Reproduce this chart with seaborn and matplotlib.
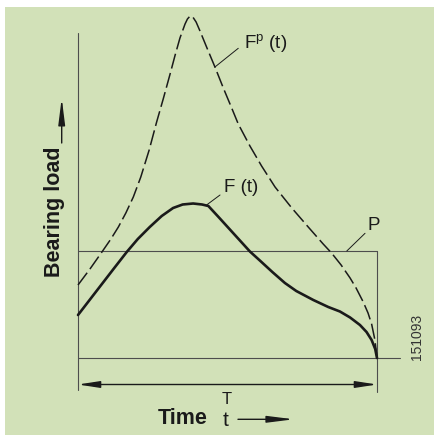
import numpy as np
import pandas as pd
import matplotlib
matplotlib.use('Agg')
import matplotlib.pyplot as plt
import seaborn as sns
from matplotlib.patches import Rectangle

# Values (time 0..100, load in arbitrary units, P = 107)
t_f = [0, 4, 8, 12, 16.3, 20, 24, 28, 31.8, 35, 38.5, 41.5, 43.6, 47, 50.5, 54, 57.5,
       61, 65, 69.2, 73, 78.7, 83.7, 87.6, 91, 94.3, 96.5, 98.2, 99.4, 100]
load_f = [43, 58.5, 74, 89.5, 106, 119, 131, 142, 150, 153.5, 154.5, 153.5, 152, 141,
          129.5, 118, 106.5, 97, 86, 75, 67, 58, 51, 46.5, 40.5, 33, 26, 18, 9, 0]

t_fp = [0, 4, 8, 11, 13.5, 16, 18.5, 21, 23.8, 26.3, 28.5, 30.8, 32.4, 34.1, 35.8,
        36.6, 37.5, 38.4, 39.5, 40.8, 43, 45.8, 48.6, 51.4, 53.6, 57.5, 61.4, 65.9,
        71.5, 77, 82, 84.8, 88, 91, 93, 95.4, 97, 98.2, 99.3, 100]
load_fp = [73, 89, 106, 119, 131, 145, 161, 181, 208, 236, 259, 284, 302, 320, 334,
           339, 342, 341, 336, 327, 311, 291, 270, 250, 234, 212, 192, 171,
           150, 131, 114, 105, 93, 80, 70, 56, 45, 34, 18, 0]

P = 107
T_END = 100

df_f = pd.DataFrame({'t': t_f, 'load': load_f})
df_fp = pd.DataFrame({'t': t_fp, 'load': load_fp})

sns.set_style('white')
plt.rcParams['font.family'] = ['Liberation Sans', 'DejaVu Sans']
plt.rcParams['mathtext.fontset'] = 'custom'
plt.rcParams['mathtext.rm'] = 'Liberation Sans'

fig = plt.figure(figsize=(4.34, 4.37), dpi=100)
fig.patch.set_facecolor('white')
fig.patches.append(Rectangle((5 / 434, 2 / 437), 429 / 434, 428 / 437,
                             transform=fig.transFigure, facecolor='#d2e1b8',
                             edgecolor='none', zorder=-1))

ax = fig.add_axes([0, 0, 1, 1])
ax.patch.set_alpha(0)

line_col = '#4d4d4d'
ink = '#1a1a1a'

# frame lines
ax.plot([0, 0], [-32, 325], color=line_col, lw=0.8)
ax.plot([T_END, T_END], [-34, P], color=line_col, lw=0.8)
ax.plot([0, (400 - 78) / 2.99], [0, 0], color=line_col, lw=0.8)
ax.plot([0, T_END], [P, P], color=line_col, lw=0.8)

# curves
sns.lineplot(data=df_fp, x='t', y='load', ax=ax, sort=False, color=ink, lw=1.1,
             linestyle=(0, (10, 3)))
sns.lineplot(data=df_f, x='t', y='load', ax=ax, sort=False, color=ink, lw=1.9)

# one load unit = 1 px, one time unit = 2.99 px
ax.set_xlim(-78 / 2.99, (434 - 78) / 2.99)
ax.set_ylim(-79, 358)
ax.axis('off')

# dimension arrow for T
ax.annotate('', xy=(0, -26.5), xytext=(T_END, -26.5),
            arrowprops=dict(arrowstyle='<|-|>,head_length=1.3,head_width=0.2',
                            color=ink, lw=1.0, shrinkA=0, shrinkB=0))
ax.text(49.7, -41, 'T', ha='center', va='center', fontsize=12, color=ink)

# labels with leader lines
ax.plot([45.8, 53.6], [291, 309.7], color=ink, lw=0.7)
ax.text(62.9, 314.5, r'F$^\mathregular{p}$ (t)', ha='center', va='center',
        fontsize=13.5, color=ink)
ax.plot([43.0, 47.5], [153, 163], color=ink, lw=0.7)
ax.text(54.5, 170, 'F (t)', ha='center', va='center', fontsize=13.5, color=ink)
ax.plot([89.9, 96.0], [P, 124.7], color=ink, lw=0.7)
ax.text(98.8, 133, 'P', ha='center', va='center', fontsize=13.5, color=ink)

# axis titles
ax.text(-7.7, 146, 'Bearing load', rotation=90, ha='center', va='center',
        fontsize=15.5, fontweight='bold', color=ink)
ax.annotate('', xy=(-5.45, 260), xytext=(-5.45, 215),
            arrowprops=dict(arrowstyle='-|>,head_length=1.6,head_width=0.2',
                            color=ink, lw=1.0, shrinkA=0, shrinkB=0))
ax.text(34.9, -61, 'Time', ha='center', va='center', fontsize=15.5,
        fontweight='bold', color=ink)
ax.text(49.2, -62, 't', ha='center', va='center', fontsize=15, color=ink)
ax.annotate('', xy=(72.2, -61.3), xytext=(53.5, -61.3),
            arrowprops=dict(arrowstyle='-|>,head_length=1.6,head_width=0.2',
                            color=ink, lw=1.0, shrinkA=0, shrinkB=0))
ax.text((417 - 78) / 2.99, 21, '151093', rotation=90, ha='center', va='center',
        fontsize=10, color='#333333')

fig.savefig('out.png', dpi=100, facecolor='white')
